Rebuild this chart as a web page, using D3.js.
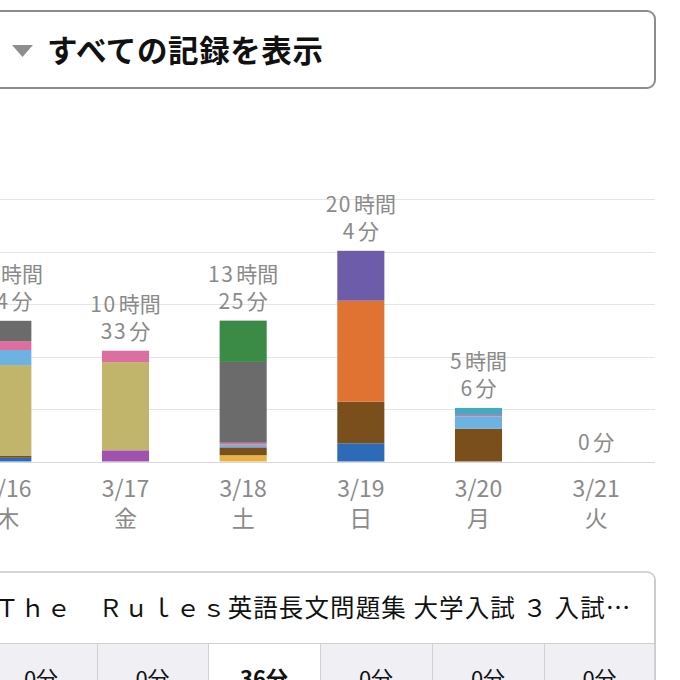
<!DOCTYPE html>
<html><head><meta charset="utf-8">
<script src="https://cdn.jsdelivr.net/npm/d3@7"></script>
<style>
html,body{margin:0;padding:0;background:#fff;overflow:hidden;}
svg{display:block;font-family:"Noto Sans CJK JP","Noto Sans",sans-serif;}
</style></head>
<body>
<svg id="c" width="680" height="680"></svg>
<script>
// ---- data ----
const days = ["3/16","3/17","3/18","3/19","3/20","3/21"];
const weekdays = ["木","金","土","日","月","火"];
const seriesKeys = ["rules","blue","magenta","brown","khaki","lightblue","pink","gray","green","orange","violet","teal"];
const seriesColors = ["#e9b244","#2d6bb8","#a152b0","#7a4f1c","#c1b46b","#6cb2e2","#dc6fa0","#6b6b6b","#3b8a46","#e07232","#6d5ca9","#45a9c4"];
// minutes per day (3/16 .. 3/21)
const rules     = [0, 0, 36, 0, 0, 0];
const blue      = [21, 0, 0, 104, 0, 0];
const magenta   = [0, 64, 0, 0, 0, 0];
const brown     = [13, 0, 45, 238, 188, 0];
const khaki     = [517, 504, 0, 0, 0, 0];
const lightblue = [86, 0, 15, 0, 70, 0];
const pink      = [51, 65, 11, 0, 8, 0];
const gray      = [116, 0, 462, 0, 0, 0];
const green     = [0, 0, 236, 0, 0, 0];
const orange    = [0, 0, 0, 577, 0, 0];
const violet    = [0, 0, 0, 285, 0, 0];
const teal      = [0, 0, 0, 0, 40, 0];
const gridTicks = [0, 300, 600, 900, 1200, 1500];
const headerTitle = "すべての記録を表示";
const tableTitleLatin = "Ｔｈｅ　Ｒｕｌｅｓ";
const tableTitleRest = "英語長文問題集 大学入試 ３ 入試…";
const tableValues = rules;

const seriesData = {rules, blue, magenta, brown, khaki, lightblue, pink, gray, green, orange, violet, teal};
const rows = days.map((d, i) => {
  const r = {day: d};
  seriesKeys.forEach(k => r[k] = seriesData[k][i]);
  return r;
});

const svg = d3.select("#c");
const x = d3.scaleBand().domain(days).range([-51, 655]).paddingInner(0.6).paddingOuter(0.3);
const y = d3.scaleLinear().domain([0, 1500]).range([461.5, 199]);
const color = d3.scaleOrdinal().domain(seriesKeys).range(seriesColors);

// header box
const hdr = svg.append("g");
hdr.append("rect").attr("x", -20).attr("y", 11).attr("width", 675).attr("height", 77).attr("rx", 8)
  .attr("fill", "#fff").attr("stroke", "#8c8c8c").attr("stroke-width", 2);
hdr.append("path").attr("d", "M12,45 L33,45 L22.5,57 Z").attr("fill", "#8e8e8e");
hdr.append("text").attr("x", 47).attr("y", 62).attr("font-size", 30.5).attr("font-weight", "bold")
  .attr("letter-spacing", 0.6).attr("fill", "#111").text(headerTitle);

// gridlines
svg.append("g").selectAll("line").data(gridTicks).join("line")
  .attr("x1", 0).attr("x2", 655)
  .attr("y1", d => Math.round(y(d)) + 0.5).attr("y2", d => Math.round(y(d)) + 0.5)
  .attr("stroke", d => d === 0 ? "#d8d8d8" : "#e4e4e4").attr("stroke-width", 1);

// stacked bars
const stacked = d3.stack().keys(seriesKeys)(rows);
svg.append("g").selectAll("g").data(stacked).join("g")
  .attr("fill", s => color(s.key))
  .selectAll("rect").data(s => s.filter(v => v[1] > v[0])).join("rect")
  .attr("x", v => x(v.data.day))
  .attr("width", x.bandwidth())
  .attr("y", v => y(v[1]))
  .attr("height", v => y(v[0]) - y(v[1]));

// total labels
const totals = rows.map(r => ({day: r.day, total: d3.sum(seriesKeys, k => r[k])}));
const lab = svg.append("g").attr("fill", "#8a8a8a").attr("font-size", 21).attr("text-anchor", "middle");
totals.forEach(t => {
  const cx = x(t.day) + x.bandwidth() / 2;
  const top = y(t.total);
  const h = Math.floor(t.total / 60), m = t.total % 60;
  const lines = h > 0 ? [[h, "時間"], [m, "分"]] : [[m, "分"]];
  lines.forEach((ln, j) => {
    const tx = lab.append("text").attr("x", cx).attr("y", top - 12 - (lines.length - 1 - j) * 27);
    tx.append("tspan").attr("letter-spacing", 1.5).text(ln[0]);
    tx.append("tspan").attr("dx", 2).text(ln[1]);
  });
});

// x axis labels
const ax = svg.append("g").attr("fill", "#8a8a8a").attr("font-size", 23).attr("text-anchor", "middle");
days.forEach((d, i) => {
  const cx = x(d) + x.bandwidth() / 2;
  ax.append("text").attr("x", cx).attr("y", 497).text(d);
  ax.append("text").attr("x", cx).attr("y", 527).text(weekdays[i]);
});

// table
const tb = svg.append("g");
const cellEdges = [-15, 97, 208, 320, 432, 544, 655];
tb.append("rect").attr("x", -20).attr("y", 572).attr("width", 675).attr("height", 140).attr("rx", 8)
  .attr("fill", "#fff").attr("stroke", "#c8c8c8").attr("stroke-width", 1.5);
days.forEach((d, i) => {
  const x0 = cellEdges[i], x1 = cellEdges[i + 1];
  tb.append("rect").attr("x", x0).attr("y", 643).attr("width", x1 - x0).attr("height", 60)
    .attr("fill", tableValues[i] > 0 ? "#ffffff" : "#efeff4");
  tb.append("text").attr("x", (x0 + x1) / 2).attr("y", 687).attr("text-anchor", "middle")
    .attr("font-size", 22).attr("font-weight", tableValues[i] > 0 ? "bold" : "normal")
    .attr("fill", "#111").text(tableValues[i] + "分");
});
tb.append("line").attr("x1", -20).attr("x2", 655).attr("y1", 643.5).attr("y2", 643.5).attr("stroke", "#d0d0d0");
cellEdges.slice(1, -1).forEach(e => tb.append("line").attr("x1", e + 0.5).attr("x2", e + 0.5)
  .attr("y1", 643).attr("y2", 680).attr("stroke", "#d0d0d0"));
tb.append("line").attr("x1", 655).attr("x2", 655).attr("y1", 580).attr("y2", 690).attr("stroke", "#c8c8c8").attr("stroke-width", 1.5);
const tt = tb.append("text").attr("x", -5).attr("y", 617).attr("font-size", 24).attr("fill", "#111");
tt.append("tspan").attr("letter-spacing", 1.85).text(tableTitleLatin);
tt.append("tspan").attr("font-size", 24.5).attr("letter-spacing", 1.1).text(tableTitleRest);
</script>
</body></html>
